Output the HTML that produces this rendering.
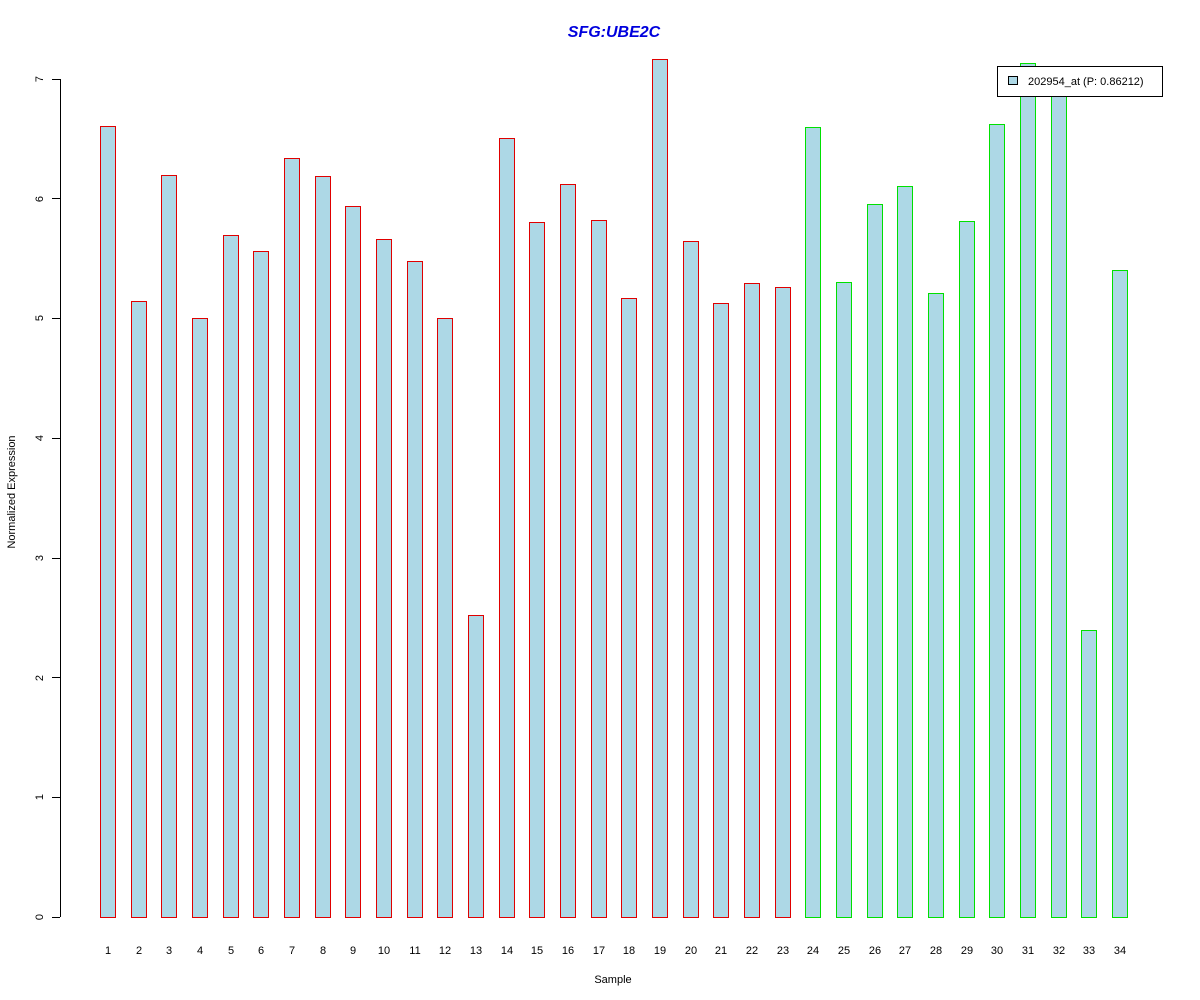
<!DOCTYPE html>
<html><head><meta charset="utf-8"><style>html,body{margin:0;padding:0;background:#fff}svg{display:block}</style></head>
<body>
<svg width="1200" height="1000" xmlns="http://www.w3.org/2000/svg" font-family="Liberation Sans, sans-serif">
<rect width="1200" height="1000" fill="#fff"/>
<text x="614" y="37" text-anchor="middle" font-size="16" font-weight="bold" font-style="italic" fill="#0000dd">SFG:UBE2C</text>
<g stroke="#000" stroke-width="1">
<line x1="60.5" y1="79" x2="60.5" y2="917"/>
<line x1="52" y1="917.5" x2="60" y2="917.5"/>
<line x1="52" y1="797.5" x2="60" y2="797.5"/>
<line x1="52" y1="677.5" x2="60" y2="677.5"/>
<line x1="52" y1="558.5" x2="60" y2="558.5"/>
<line x1="52" y1="438.5" x2="60" y2="438.5"/>
<line x1="52" y1="318.5" x2="60" y2="318.5"/>
<line x1="52" y1="198.5" x2="60" y2="198.5"/>
<line x1="52" y1="79.5" x2="60" y2="79.5"/>
</g>
<g font-size="11" fill="#000" text-anchor="middle">
<text transform="translate(43,917) rotate(-90)">0</text>
<text transform="translate(43,797) rotate(-90)">1</text>
<text transform="translate(43,678) rotate(-90)">2</text>
<text transform="translate(43,558) rotate(-90)">3</text>
<text transform="translate(43,438) rotate(-90)">4</text>
<text transform="translate(43,318) rotate(-90)">5</text>
<text transform="translate(43,199) rotate(-90)">6</text>
<text transform="translate(43,79) rotate(-90)">7</text>
<text transform="translate(15,492) rotate(-90)">Normalized Expression</text>
<text x="613" y="983">Sample</text>
</g>
<g fill="#add8e6" stroke="#e00000" stroke-width="1">
<rect x="100.5" y="126.5" width="15" height="791"/>
<rect x="131.5" y="301.5" width="15" height="616"/>
<rect x="161.5" y="175.5" width="15" height="742"/>
<rect x="192.5" y="318.5" width="15" height="599"/>
<rect x="223.5" y="235.5" width="15" height="682"/>
<rect x="253.5" y="251.5" width="15" height="666"/>
<rect x="284.5" y="158.5" width="15" height="759"/>
<rect x="315.5" y="176.5" width="15" height="741"/>
<rect x="345.5" y="206.5" width="15" height="711"/>
<rect x="376.5" y="239.5" width="15" height="678"/>
<rect x="407.5" y="261.5" width="15" height="656"/>
<rect x="437.5" y="318.5" width="15" height="599"/>
<rect x="468.5" y="615.5" width="15" height="302"/>
<rect x="499.5" y="138.5" width="15" height="779"/>
<rect x="529.5" y="222.5" width="15" height="695"/>
<rect x="560.5" y="184.5" width="15" height="733"/>
<rect x="591.5" y="220.5" width="15" height="697"/>
<rect x="621.5" y="298.5" width="15" height="619"/>
<rect x="652.5" y="59.5" width="15" height="858"/>
<rect x="683.5" y="241.5" width="15" height="676"/>
<rect x="713.5" y="303.5" width="15" height="614"/>
<rect x="744.5" y="283.5" width="15" height="634"/>
<rect x="775.5" y="287.5" width="15" height="630"/>
</g>
<g fill="#add8e6" stroke="#00e000" stroke-width="1">
<rect x="805.5" y="127.5" width="15" height="790"/>
<rect x="836.5" y="282.5" width="15" height="635"/>
<rect x="867.5" y="204.5" width="15" height="713"/>
<rect x="897.5" y="186.5" width="15" height="731"/>
<rect x="928.5" y="293.5" width="15" height="624"/>
<rect x="959.5" y="221.5" width="15" height="696"/>
<rect x="989.5" y="124.5" width="15" height="793"/>
<rect x="1020.5" y="63.5" width="15" height="854"/>
<rect x="1051.5" y="72.5" width="15" height="845"/>
<rect x="1081.5" y="630.5" width="15" height="287"/>
<rect x="1112.5" y="270.5" width="15" height="647"/>
</g>
<g font-size="11" text-anchor="middle" fill="#000">
<text x="108" y="954">1</text><text x="139" y="954">2</text><text x="169" y="954">3</text><text x="200" y="954">4</text><text x="231" y="954">5</text><text x="261" y="954">6</text><text x="292" y="954">7</text><text x="323" y="954">8</text><text x="353" y="954">9</text><text x="384" y="954">10</text><text x="415" y="954">11</text><text x="445" y="954">12</text><text x="476" y="954">13</text><text x="507" y="954">14</text><text x="537" y="954">15</text><text x="568" y="954">16</text><text x="599" y="954">17</text><text x="629" y="954">18</text><text x="660" y="954">19</text><text x="691" y="954">20</text><text x="721" y="954">21</text><text x="752" y="954">22</text><text x="783" y="954">23</text><text x="813" y="954">24</text><text x="844" y="954">25</text><text x="875" y="954">26</text><text x="905" y="954">27</text><text x="936" y="954">28</text><text x="967" y="954">29</text><text x="997" y="954">30</text><text x="1028" y="954">31</text><text x="1059" y="954">32</text><text x="1089" y="954">33</text><text x="1120" y="954">34</text>
</g>
<rect x="997.5" y="66.5" width="165" height="30" fill="#fff" stroke="#000"/>
<rect x="1008.5" y="76.5" width="9" height="8" fill="#add8e6" stroke="#000"/>
<text x="1028" y="85" font-size="11" fill="#000">202954_at (P: 0.86212)</text>
</svg>
</body></html>
